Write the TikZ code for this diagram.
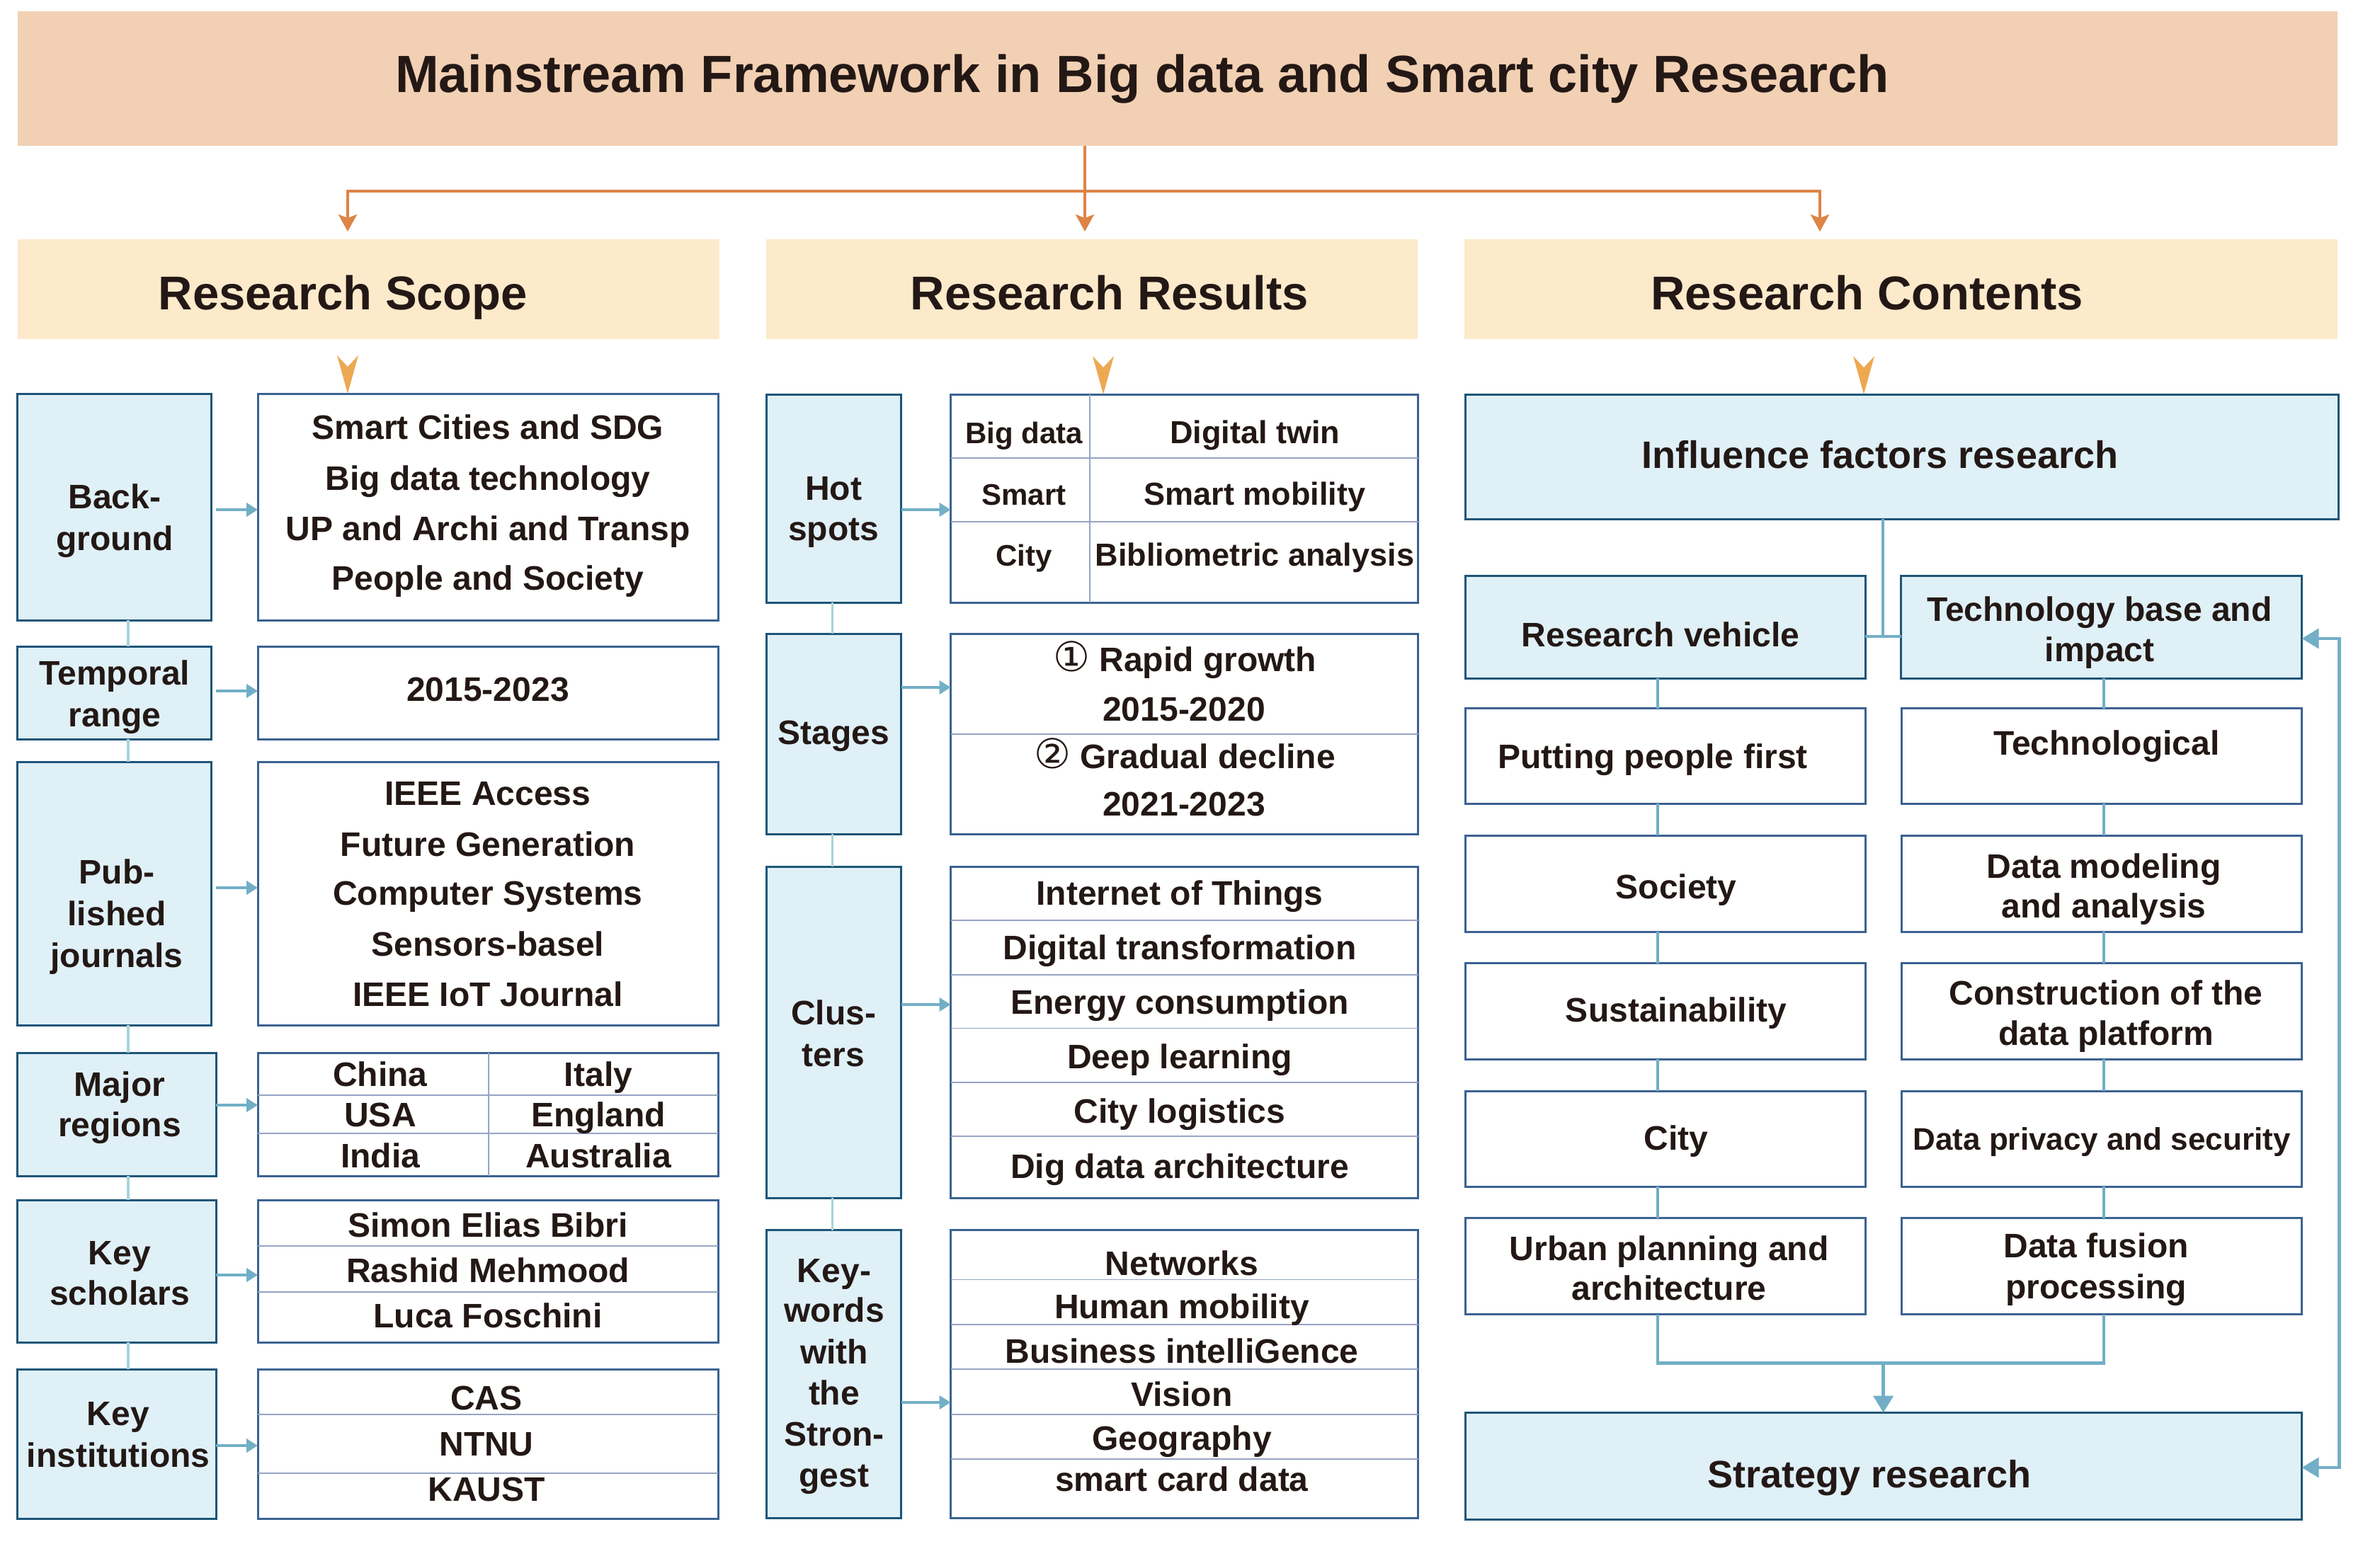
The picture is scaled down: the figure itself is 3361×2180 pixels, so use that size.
\documentclass[tikz,border=0pt]{standalone}
\usepackage{fontspec}
\setmainfont{Liberation Sans}
\newfontfamily\djv{DejaVu Sans}
\usetikzlibrary{arrows.meta}
\definecolor{titlefill}{HTML}{F2D0B3}
\definecolor{headfill}{HTML}{FCEACB}
\definecolor{bfill}{HTML}{DFF0F7}
\definecolor{bdark}{HTML}{1E5578}
\definecolor{bwhite}{HTML}{3B6291}
\definecolor{tlinecol}{HTML}{96A3C4}
\definecolor{conncol}{HTML}{72AFC6}
\definecolor{vconncol}{HTML}{A6D4DA}
\definecolor{ocol}{HTML}{DE8446}
\definecolor{vocol}{HTML}{EDA952}
\definecolor{tcol}{HTML}{231815}
\newcommand\B[6]{\node[#2, minimum width={(#5)-(#3)}, minimum height={(#6)-(#4)}] (#1) at ({((#3)+(#5))/2},{((#4)+(#6))/2}) {};}
\newcommand\T[5][48]{\node[txt,font=\fontsize{#1}{#1}\selectfont\bfseries] (#2) at (#3,#4) {#5};}
\newcommand\circnum[1]{{\djv\mdseries\fontsize{58}{58}\selectfont #1}}
\begin{document}
\begin{tikzpicture}[x=1pt,y=-1pt,
  box/.style={rectangle, inner sep=0pt, outer sep=0pt, line width=3pt},
  bluebox/.style={box, draw=bdark, fill=bfill},
  whitebox/.style={box, draw=bwhite, fill=white},
  titlebox/.style={box, fill=titlefill},
  headbox/.style={box, fill=headfill},
  txt/.style={inner sep=0pt, outer sep=0pt, text=tcol, anchor=base},
  tline/.style={line width=1.8pt, draw=tlinecol},
  vconn/.style={line width=3.5pt, draw=vconncol},
  conn/.style={line width=4.5pt, draw=conncol},
  barrow/.style={line width=4.5pt, draw=conncol, -{Triangle[length=16pt,width=19pt]}},
  bigtip/.style={-{Triangle[length=24pt,width=28pt]}},
  oline/.style={line width=4pt, draw=ocol},
  oarrow/.style={-{Stealth[length=24pt,width=26pt,inset=5pt]}},
  vpic/.pic={\fill[vocol] (-15,-54) -- (0,-38) -- (15,-54) -- (0,0) -- cycle;}
]
\useasboundingbox (0,0) rectangle (3361,2180);
\fill[white] (0,0) rectangle (3361,2180);

% ---------- title and headers ----------
\B{title}{titlebox}{24.6}{16}{3301}{206}
\T[74]{titleT}{1613}{130}{Mainstream Framework in Big data and Smart city Research}
\B{hS}{headbox}{24.6}{337.5}{1016}{478.6}
\B{hR}{headbox}{1082}{337.5}{2002}{478.6}
\B{hC}{headbox}{2068}{337.5}{3301}{478.6}
\T[67]{hST}{484.5}{437}{Research Scope}
\T[67]{hRT}{1567}{437}{Research Results}
\T[67]{hCT}{2636.5}{437}{Research Contents}

\coordinate (oj) at (1532,270);
\coordinate (oa1) at (491,327);
\coordinate (oa2) at (1532,327);
\coordinate (oa3) at (2570,327);
\draw[oline] (title.south -| oj) -- (oj);
\draw[oline,oarrow] (oj) -| (oa1);
\draw[oline,oarrow] (oj) -- (oa2);
\draw[oline,oarrow] (oj) -| (oa3);

\pic at (491,556) {vpic};
\pic at (1558,557) {vpic};
\pic at (2632,557) {vpic};

% ---------- left column ----------
\coordinate (cL) at (181,0);
\B{bg}{bluebox}{24.6}{556}{298}{876}
\B{bgC}{whitebox}{364}{556}{1014}{876}
\B{tr}{bluebox}{24.6}{913}{298}{1044}
\B{trC}{whitebox}{364}{913}{1014}{1044}
\B{pj}{bluebox}{24.6}{1076}{298}{1448}
\B{pjC}{whitebox}{364}{1076}{1014}{1448}
\B{mr}{bluebox}{24.6}{1487}{305}{1661}
\B{mrC}{whitebox}{364}{1487}{1014}{1661}
\B{ks}{bluebox}{24.6}{1695}{305}{1896}
\B{ksC}{whitebox}{364}{1695}{1014}{1896}
\B{ki}{bluebox}{24.6}{1934}{305}{2145}
\B{kiC}{whitebox}{364}{1934}{1014}{2145}

\draw[tline] (690,1487) -- (690,1661);
\draw[tline] (364,1547) -- (1014,1547);
\draw[tline] (364,1601) -- (1014,1601);
\draw[tline] (364,1760) -- (1014,1760);
\draw[tline] (364,1825) -- (1014,1825);
\draw[tline] (364,1998) -- (1014,1998);
\draw[tline] (364,2081) -- (1014,2081);

\draw[vconn] (bg.south -| cL) -- (tr.north -| cL);
\draw[vconn] (tr.south -| cL) -- (pj.north -| cL);
\draw[vconn] (pj.south -| cL) -- (mr.north -| cL);
\draw[vconn] (mr.south -| cL) -- (ks.north -| cL);
\draw[vconn] (ks.south -| cL) -- (ki.north -| cL);

\draw[barrow,shorten <=7pt] (bg.east |- 0,720) -- (bgC.west |- 0,720);
\draw[barrow,shorten <=7pt] (tr.east |- 0,976) -- (trC.west |- 0,976);
\draw[barrow,shorten <=7pt] (pj.east |- 0,1254) -- (pjC.west |- 0,1254);
\draw[barrow] (mr.east |- 0,1561) -- (mrC.west |- 0,1561);
\draw[barrow] (ks.east |- 0,1801) -- (ksC.west |- 0,1801);
\draw[barrow] (ki.east |- 0,2042) -- (kiC.west |- 0,2042);

\T{bgT1}{162}{718}{Back-}
\T{bgT2}{162}{777}{ground}
\T{bgC1}{689}{620}{Smart Cities and SDG}
\T{bgC2}{689}{692}{Big data technology}
\T{bgC3}{689}{763}{UP and Archi and Transp}
\T{bgC4}{689}{833}{People and Society}
\T{trT1}{162}{967}{Temporal}
\T{trT2}{162}{1026}{range}
\T{trC1}{689}{990}{2015-2023}
\T{pjT1}{165}{1248}{Pub-}
\T{pjT2}{165}{1307}{lished}
\T{pjT3}{165}{1366}{journals}
\T{pjC1}{689}{1137}{IEEE Access}
\T{pjC2}{689}{1209}{Future Generation}
\T{pjC3}{689}{1278}{Computer Systems}
\T{pjC4}{689}{1350}{Sensors-basel}
\T{pjC5}{689}{1421}{IEEE IoT Journal}
\T{mrT1}{169}{1548}{Major}
\T{mrT2}{169}{1605}{regions}
\T{mrC1}{537}{1534}{China}
\T{mrC2}{845}{1534}{Italy}
\T{mrC3}{537}{1591}{USA}
\T{mrC4}{845}{1591}{England}
\T{mrC5}{537}{1649}{India}
\T{mrC6}{845}{1649}{Australia}
\T{ksT1}{169}{1786}{Key}
\T{ksT2}{169}{1843}{scholars}
\T{ksC1}{689}{1747}{Simon Elias Bibri}
\T{ksC2}{689}{1811}{Rashid Mehmood}
\T{ksC3}{689}{1875}{Luca Foschini}
\T{kiT1}{167}{2013}{Key}
\T{kiT2}{167}{2072}{institutions}
\T{kiC1}{687}{1991}{CAS}
\T{kiC2}{687}{2056}{NTNU}
\T{kiC3}{687}{2120}{KAUST}

% ---------- middle column ----------
\coordinate (cM) at (1175.6,0);
\B{hs}{bluebox}{1082}{557}{1272.5}{851}
\B{hsC}{whitebox}{1342.5}{557}{2002.5}{851}
\B{sg}{bluebox}{1082}{895}{1272.5}{1178}
\B{sgC}{whitebox}{1342.5}{895}{2002.5}{1178}
\B{cl}{bluebox}{1082}{1224}{1272.5}{1692}
\B{clC}{whitebox}{1342.5}{1224}{2002.5}{1692}
\B{kw}{bluebox}{1082}{1737.5}{1272.5}{2144}
\B{kwC}{whitebox}{1342.5}{1737.5}{2002.5}{2144}

\draw[tline] (1539,557) -- (1539,851);
\draw[tline] (1342.5,647) -- (2002.5,647);
\draw[tline] (1342.5,737) -- (2002.5,737);
\draw[tline] (1342.5,1037) -- (2002.5,1037);
\foreach \yy in {1300,1377,1452.5,1529,1605} {\draw[tline] (1342.5,\yy) -- (2002.5,\yy);}
\foreach \yy in {1807.5,1871,1934,1998,2061} {\draw[tline] (1342.5,\yy) -- (2002.5,\yy);}

\draw[vconn] (hs.south -| cM) -- (sg.north -| cM);
\draw[vconn] (sg.south -| cM) -- (cl.north -| cM);
\draw[vconn] (cl.south -| cM) -- (kw.north -| cM);

\draw[barrow] (hs.east |- 0,720) -- (hsC.west |- 0,720);
\draw[barrow] (sg.east |- 0,971) -- (sgC.west |- 0,971);
\draw[barrow] (cl.east |- 0,1419) -- (clC.west |- 0,1419);
\draw[barrow] (kw.east |- 0,1981) -- (kwC.west |- 0,1981);

\T{hsT1}{1177}{706}{Hot}
\T{hsT2}{1177}{763}{spots}
\T[42]{hs1}{1446}{626}{Big data}
\T[45]{hs2}{1772}{626}{Digital twin}
\T[42]{hs3}{1446}{713}{Smart}
\T[45]{hs4}{1772}{713}{Smart mobility}
\T[42]{hs5}{1446}{799}{City}
\T[45]{hs6}{1772}{799}{Bibliometric analysis}
\T{sgT}{1177}{1051}{Stages}
\T{sg1}{1673}{948}{\circnum{①} Rapid growth}
\T{sg2}{1672}{1018}{2015-2020}
\T{sg3}{1673}{1085}{\circnum{②} Gradual decline}
\T{sg4}{1672}{1152}{2021-2023}
\T{clT1}{1177}{1447}{Clus-}
\T{clT2}{1177}{1506}{ters}
\T{cl1}{1666}{1278}{Internet of Things}
\T{cl2}{1666}{1355}{Digital transformation}
\T{cl3}{1666}{1432.5}{Energy consumption}
\T{cl4}{1666}{1509}{Deep learning}
\T{cl5}{1666}{1586}{City logistics}
\T{cl6}{1666}{1664}{Dig data architecture}
\T{kwT1}{1178}{1811}{Key-}
\T{kwT2}{1178}{1867.5}{words}
\T{kwT3}{1178}{1926}{with}
\T{kwT4}{1178}{1984}{the}
\T{kwT5}{1178}{2042.5}{Stron-}
\T{kwT6}{1178}{2100}{gest}
\T{kw1}{1669}{1801}{Networks}
\T{kw2}{1669}{1862.5}{Human mobility}
\T{kw3}{1669}{1925}{Business intelliGence}
\T{kw4}{1669}{1986}{Vision}
\T{kw5}{1669}{2048}{Geography}
\T{kw6}{1669}{2106}{smart card data}

% ---------- right column ----------
\coordinate (cR1) at (2341,0);
\coordinate (cR2) at (2971,0);
\coordinate (tj) at (2659,899);
\coordinate (mj) at (2659.6,1925.7);
\coordinate (fb1) at (3303.6,902);
\coordinate (fb2) at (3303.6,2073);

\B{inf}{bluebox}{2069.5}{557}{3302}{733}
\B{rv}{bluebox}{2069.5}{813}{2634}{958}
\B{tb}{bluebox}{2684.5}{813}{3250.6}{958}
\B{r1}{whitebox}{2069.5}{1000.6}{2634}{1135}
\B{r2}{whitebox}{2069.5}{1180}{2634}{1316}
\B{r3}{whitebox}{2069.5}{1360.6}{2634}{1496}
\B{r4}{whitebox}{2069.5}{1541}{2634}{1676}
\B{r5}{whitebox}{2069.5}{1720.5}{2634}{1856.6}
\B{q1}{whitebox}{2685}{1000.6}{3250.6}{1135}
\B{q2}{whitebox}{2685}{1180}{3250.6}{1316}
\B{q3}{whitebox}{2685}{1360.6}{3250.6}{1496}
\B{q4}{whitebox}{2685}{1541}{3250.6}{1676}
\B{q5}{whitebox}{2685}{1720.5}{3250.6}{1856.6}
\B{st}{bluebox}{2069.5}{1995.5}{3250.6}{2146}

\draw[conn] (inf.south -| tj) -- (tj);
\draw[conn] (rv.east |- tj) -- (tb.west |- tj);
\draw[conn] (rv.south -| cR1) -- (r1.north -| cR1);
\draw[conn] (r1.south -| cR1) -- (r2.north -| cR1);
\draw[conn] (r2.south -| cR1) -- (r3.north -| cR1);
\draw[conn] (r3.south -| cR1) -- (r4.north -| cR1);
\draw[conn] (r4.south -| cR1) -- (r5.north -| cR1);
\draw[conn] (tb.south -| cR2) -- (q1.north -| cR2);
\draw[conn] (q1.south -| cR2) -- (q2.north -| cR2);
\draw[conn] (q2.south -| cR2) -- (q3.north -| cR2);
\draw[conn] (q3.south -| cR2) -- (q4.north -| cR2);
\draw[conn] (q4.south -| cR2) -- (q5.north -| cR2);
\draw[conn] (r5.south -| cR1) |- (mj) -| (q5.south -| cR2);
\draw[conn,bigtip] (mj) -- (st.north -| mj);
\draw[conn,{Triangle[length=24pt,width=28pt]}-{Triangle[length=24pt,width=28pt]}] (tb.east |- fb1) -- (fb1) -- (fb2) -- (st.east |- fb2);

\T[54]{infT}{2655}{661}{Influence factors research}
\T{rvT}{2345}{913}{Research vehicle}
\T{tbT1}{2965}{877}{Technology base and}
\T{tbT2}{2965}{934}{impact}
\T{r1T}{2334}{1085.5}{Putting people first}
\T{r2T}{2367}{1269}{Society}
\T{r3T}{2367}{1443}{Sustainability}
\T{r4T}{2367}{1624}{City}
\T{r5T1}{2357}{1780}{Urban planning and}
\T{r5T2}{2357}{1836}{architecture}
\T{q1T}{2975}{1066}{Technological}
\T{q2T1}{2971}{1240}{Data modeling}
\T{q2T2}{2971}{1296}{and analysis}
\T{q3T1}{2974}{1419}{Construction of the}
\T{q3T2}{2974}{1476}{data platform}
\T[44]{q4T}{2968}{1624}{Data privacy and security}
\T{q5T1}{2960}{1776.6}{Data fusion}
\T{q5T2}{2960}{1834}{processing}
\T[54]{stT}{2640}{2101.7}{Strategy research}
\end{tikzpicture}
\end{document}
